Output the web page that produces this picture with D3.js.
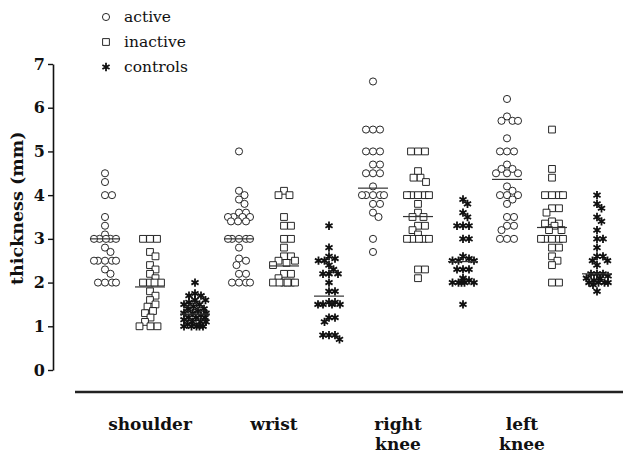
<!DOCTYPE html>
<html>
<head>
<meta charset="utf-8">
<script src="https://cdn.jsdelivr.net/npm/d3@7"></script>
<style>
  html, body { margin: 0; padding: 0; background: #fff; }
  svg { display: block; }
  text { font-family: "DejaVu Serif", "Liberation Serif", serif; fill: #111; }
</style>
</head>
<body>
<svg id="chart" width="623" height="456"></svg>
<script>
// Joint sites and subject groups
const sites = ["shoulder", "wrist", "right knee", "left knee"];
const groups = ["active", "inactive", "controls"];
const yTicks = [0, 1, 2, 3, 4, 5, 6, 7];

// Synovial thickness (mm), one array per site and group
const shoulderActive   = [4.5, 4.3, 4.0, 4.0, 3.5, 3.3, 3.1, 3.0, 3.0, 3.0, 3.0, 3.0, 2.8, 2.7, 2.5, 2.5, 2.5, 2.5, 2.5, 2.3, 2.2, 2.0, 2.0, 2.0, 2.0];
const shoulderInactive = [3.0, 3.0, 3.0, 2.7, 2.6, 2.4, 2.3, 2.2, 2.1, 2.0, 2.0, 2.0, 2.0, 1.8, 1.7, 1.6, 1.5, 1.45, 1.35, 1.3, 1.2, 1.1, 1.0, 1.0, 1.0];
const shoulderControls = [2.0, 1.75, 1.7, 1.7, 1.6, 1.6, 1.55, 1.5, 1.5, 1.45, 1.4, 1.4, 1.35, 1.3, 1.3, 1.3, 1.25, 1.2, 1.2, 1.2, 1.15, 1.1, 1.1, 1.1, 1.05, 1.0, 1.0, 1.0, 1.0, 1.0];

const wristActive   = [5.0, 4.1, 4.0, 3.9, 3.8, 3.6, 3.6, 3.5, 3.5, 3.5, 3.5, 3.4, 3.4, 3.4, 3.0, 3.0, 3.0, 3.0, 3.0, 2.8, 2.55, 2.5, 2.4, 2.2, 2.2, 2.0, 2.0, 2.0, 2.0];
const wristInactive = [4.1, 4.0, 4.0, 3.5, 3.3, 3.3, 3.0, 3.0, 2.8, 2.6, 2.6, 2.5, 2.5, 2.45, 2.4, 2.2, 2.2, 2.1, 2.0, 2.0, 2.0, 2.0, 2.0, 2.0];
const wristControls = [3.3, 2.8, 2.6, 2.55, 2.5, 2.5, 2.4, 2.3, 2.2, 2.2, 2.2, 2.0, 1.8, 1.8, 1.55, 1.55, 1.5, 1.5, 1.5, 1.5, 1.2, 1.2, 1.1, 0.8, 0.8, 0.8, 0.7];

const rightKneeActive   = [6.6, 5.5, 5.5, 5.5, 5.0, 5.0, 5.0, 4.7, 4.7, 4.5, 4.5, 4.5, 4.2, 4.0, 4.0, 4.0, 4.0, 4.0, 3.8, 3.8, 3.6, 3.5, 3.0, 2.7];
const rightKneeInactive = [5.0, 5.0, 5.0, 4.55, 4.4, 4.4, 4.3, 4.0, 4.0, 4.0, 4.0, 4.0, 3.8, 3.6, 3.5, 3.5, 3.3, 3.3, 3.2, 3.1, 3.0, 3.0, 3.0, 3.0, 3.0, 2.3, 2.3, 2.1];
const rightKneeControls = [3.9, 3.8, 3.6, 3.5, 3.3, 3.3, 3.3, 3.0, 3.0, 2.6, 2.55, 2.5, 2.5, 2.5, 2.3, 2.3, 2.3, 2.1, 2.05, 2.0, 2.0, 2.0, 2.0, 2.0, 1.5];

const leftKneeActive   = [6.2, 5.8, 5.7, 5.7, 5.7, 5.3, 5.0, 5.0, 5.0, 4.7, 4.6, 4.6, 4.5, 4.5, 4.5, 4.2, 4.1, 4.0, 4.0, 4.0, 3.9, 3.8, 3.5, 3.5, 3.3, 3.3, 3.2, 3.0, 3.0, 3.0];
const leftKneeInactive = [5.5, 4.6, 4.4, 4.0, 4.0, 4.0, 4.0, 3.7, 3.7, 3.6, 3.4, 3.35, 3.35, 3.3, 3.2, 3.2, 3.0, 3.0, 3.0, 3.0, 3.0, 2.8, 2.8, 2.6, 2.5, 2.4, 2.0, 2.0];
const leftKneeControls = [4.0, 3.8, 3.7, 3.5, 3.4, 3.2, 3.0, 3.0, 2.8, 2.6, 2.6, 2.5, 2.5, 2.4, 2.2, 2.2, 2.2, 2.15, 2.1, 2.1, 2.05, 2.0, 2.0, 2.0, 2.0, 1.95, 1.8];

// Group mean lines, by site
const meanActive   = [3.0, 3.0, 4.16, 4.36];
const meanInactive = [1.9, 2.38, 3.51, 3.26];
const meanControls = [1.28, 1.69, 2.48, 2.2];

const table = [
  [shoulderActive, shoulderInactive, shoulderControls],
  [wristActive, wristInactive, wristControls],
  [rightKneeActive, rightKneeInactive, rightKneeControls],
  [leftKneeActive, leftKneeInactive, leftKneeControls]
];
const means = [meanActive, meanInactive, meanControls];

const svg = d3.select("#chart");

const y = d3.scaleLinear().domain([0, 7]).range([370, 64]);
const xSite = d3.scalePoint().domain(sites).range([150, 552]);
const xGroup = d3.scalePoint().domain(groups).range([-45, 45]);
const xLabel = d3.scalePoint().domain(sites).range([150, 522]);

// Symbols per group
const symbolFor = {
  active: d3.symbol(d3.symbolCircle).size(40),
  inactive: d3.symbol(d3.symbolSquare).size(46),
  controls: d3.symbol(d3.symbolAsterisk).size(48)
};
function styleMark(sel, g) {
  if (g === "controls") {
    sel.attr("fill", "none").attr("stroke", "#111").attr("stroke-width", 1.8);
  } else {
    sel.attr("fill", "#fff").attr("stroke", "#111").attr("stroke-width", 0.9);
  }
}

// Compact dodge layout: nearest free slot within a limited width,
// otherwise the least crowded slot in that width
function dodge(values, minD, maxSpread) {
  const placed = [];
  const sorted = values.slice().sort((a, b) => b - a);
  const cands = [0];
  for (let k = 1; k * 0.5 <= maxSpread; k++) cands.push(k * 0.5, -k * 0.5);
  for (const v of sorted) {
    const py = y(v);
    let best = 0, bestScore = -1;
    for (const c of cands) {
      let score = Infinity;
      for (const p of placed) {
        const d = Math.hypot(p.dx - c, p.py - py);
        if (d < score) score = d;
      }
      if (score >= minD) { best = c; break; }
      if (score > bestScore + 0.01) { bestScore = score; best = c; }
    }
    placed.push({ v, py, dx: best });
  }
  return placed;
}

// Y axis
const yAxis = d3.axisLeft(y).tickValues(yTicks).tickFormat(d3.format("d"))
  .tickSize(5).tickSizeOuter(0).tickPadding(3);
const gy = svg.append("g").attr("transform", "translate(53,0)").call(yAxis);
gy.select(".domain").attr("stroke", "#111").attr("stroke-width", 1.6);
gy.selectAll(".tick line").attr("stroke", "#111").attr("stroke-width", 1.4);
gy.selectAll(".tick text")
  .style("font-family", '"DejaVu Serif", serif')
  .style("font-weight", "bold").style("font-size", "16px").attr("fill", "#111");

svg.append("text")
  .attr("transform", "translate(18," + y(3.7) + ") rotate(-90)")
  .attr("text-anchor", "middle")
  .attr("dominant-baseline", "middle")
  .style("font-weight", "bold").style("font-size", "17.5px")
  .text("thickness (mm)");

// Baseline under the plot
svg.append("line")
  .attr("x1", 75).attr("x2", 623).attr("y1", 392).attr("y2", 392)
  .attr("stroke", "#222").attr("stroke-width", 2.6);

// Site labels
sites.forEach(s => {
  const words = s.split(" ");
  const t = svg.append("text")
    .attr("x", xLabel(s)).attr("y", 430)
    .attr("text-anchor", "middle")
    .style("font-weight", "bold").style("font-size", "17px");
  words.forEach((w, i) => {
    t.append("tspan").attr("x", xLabel(s)).attr("dy", i === 0 ? 0 : 20).text(w);
  });
});

// Points
table.forEach((row, si) => {
  const site = sites[si];
  row.forEach((vals, gi) => {
    const g = groups[gi];
    const cx = xSite(site) + xGroup(g);
    const pts = g === "controls" ? dodge(vals, 6, 11) : dodge(vals, 7, 11);
    const sel = svg.append("g").selectAll("path").data(pts).join("path")
      .attr("d", symbolFor[g])
      .attr("transform", d => `translate(${cx + d.dx},${d.py})`);
    styleMark(sel, g);
    if (g === "controls") {
      svg.append("g").selectAll("circle").data(pts).join("circle")
        .attr("cx", d => cx + d.dx).attr("cy", d => d.py).attr("r", 1.5).attr("fill", "#111");
    }
    // mean line
    svg.append("line")
      .attr("x1", cx - 15).attr("x2", cx + 15)
      .attr("y1", y(means[gi][si])).attr("y2", y(means[gi][si]))
      .attr("stroke", "#333").attr("stroke-width", 1.2);
  });
});

// Legend
const legend = svg.append("g");
groups.forEach((g, i) => {
  const ly = 17 + i * 25;
  const m = legend.append("path").attr("d", symbolFor[g]).attr("transform", `translate(106,${ly})`);
  styleMark(m, g);
  if (g === "controls") legend.append("circle").attr("cx", 106).attr("cy", ly).attr("r", 1.5).attr("fill", "#111");
  legend.append("text").attr("x", 124).attr("y", ly).attr("dominant-baseline", "central")
    .style("font-size", "15.5px").text(g);
});
</script>
</body>
</html>
